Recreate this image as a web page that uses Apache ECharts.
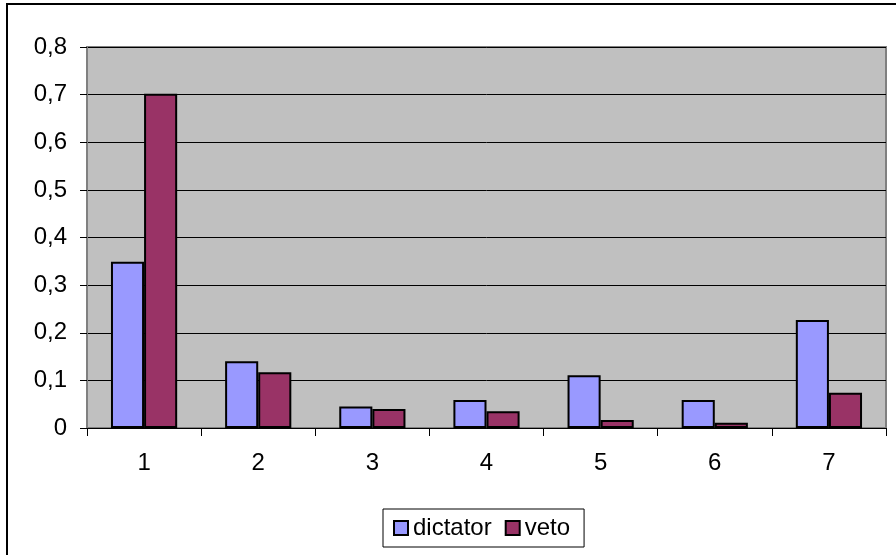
<!DOCTYPE html>
<html>
<head>
<meta charset="utf-8">
<script src="https://cdn.jsdelivr.net/npm/echarts@6/dist/echarts.min.js"></script>
<style>
  html, body { margin: 0; padding: 0; background: #fff; }
  #chart { width: 896px; height: 555px; }
</style>
</head>
<body>
<div id="chart"></div>
<script>
var categories = ['1', '2', '3', '4', '5', '6', '7'];
var dictator = [0.349, 0.140, 0.045, 0.059, 0.111, 0.059, 0.227];
var veto = [0.702, 0.117, 0.040, 0.035, 0.017, 0.011, 0.074];

var font = 'Liberation Sans';
var chart = echarts.init(document.getElementById('chart'));
chart.setOption({
  animation: false,
  // outer chart frame, only top and left edges fall inside the picture
  graphic: [{
    type: 'rect', z: -10, silent: true,
    shape: { x: 7, y: 4, width: 1000, height: 1000 },
    style: { fill: null, stroke: '#000', lineWidth: 2 }
  }],
  grid: {
    left: 87, right: 10, top: 47, bottom: 127,
    show: true, backgroundColor: '#C0C0C0', borderColor: '#808080', borderWidth: 2
  },
  legend: {
    left: 383, top: 509,
    data: ['dictator', 'veto'],
    itemWidth: 14, itemHeight: 14, itemGap: 13,
    padding: [7, 14, 7, 10],
    borderColor: '#000', borderWidth: 1,
    itemStyle: { borderColor: '#000', borderWidth: 2 },
    textStyle: { fontSize: 24, color: '#000', fontFamily: font },
    icon: 'rect'
  },
  xAxis: {
    type: 'category',
    data: categories,
    axisLine: { lineStyle: { color: '#000' } },
    axisTick: { show: true, length: 8, lineStyle: { color: '#000' } },
    axisLabel: { fontSize: 24, color: '#000', fontFamily: font, margin: 23 }
  },
  yAxis: {
    type: 'value',
    min: 0, max: 0.8, interval: 0.1,
    axisLine: { show: true, lineStyle: { color: '#808080', width: 2 } },
    axisTick: { show: true, length: 7, lineStyle: { color: '#000' } },
    axisLabel: {
      fontSize: 24, color: '#000', fontFamily: font, margin: 20,
      formatter: function (v) { return (Math.round(v * 10) / 10).toString().replace('.', ','); }
    },
    splitLine: { lineStyle: { color: '#000', width: 1 } }
  },
  series: [
    {
      name: 'dictator', type: 'bar', data: dictator,
      barGap: '0%', barCategoryGap: '42%',
      itemStyle: { color: '#9999FF', borderColor: '#000', borderWidth: 2 }
    },
    {
      name: 'veto', type: 'bar', data: veto,
      itemStyle: { color: '#993366', borderColor: '#000', borderWidth: 2 }
    }
  ]
});
</script>
</body>
</html>
